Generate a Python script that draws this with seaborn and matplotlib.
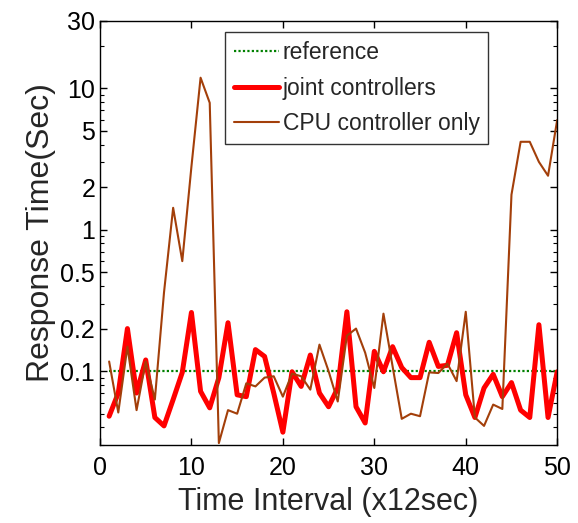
import numpy as np
import pandas as pd
import matplotlib
matplotlib.use("Agg")
import matplotlib.pyplot as plt
import seaborn as sns
from matplotlib.ticker import FixedLocator, FixedFormatter, LogLocator, NullFormatter

# ---- data ----
intervals = list(range(1, 51))
reference = [0.1] * 50
joint = [0.048, 0.07, 0.2, 0.07, 0.12, 0.047, 0.041, 0.063, 0.098, 0.26,
         0.072, 0.055, 0.09, 0.22, 0.068, 0.066, 0.142, 0.127, 0.07, 0.037,
         0.099, 0.078, 0.13, 0.07, 0.056, 0.076, 0.263, 0.056, 0.043, 0.138,
         0.099, 0.149, 0.106, 0.09, 0.09, 0.16, 0.108, 0.11, 0.187, 0.068,
         0.047, 0.076, 0.095, 0.066, 0.083, 0.053, 0.047, 0.213, 0.047, 0.099]
cpu_only = [0.117, 0.051, 0.149, 0.053, 0.117, 0.063, 0.36, 1.43, 0.60, 2.8,
            11.9, 7.9, 0.031, 0.053, 0.05, 0.082, 0.078, 0.09, 0.092, 0.066,
            0.096, 0.092, 0.074, 0.154, 0.1, 0.061, 0.178, 0.2, 0.135, 0.076,
            0.255, 0.108, 0.046, 0.05, 0.048, 0.098, 0.097, 0.113, 0.085, 0.263,
            0.047, 0.041, 0.058, 0.054, 1.77, 4.19, 4.19, 3.02, 2.41, 5.98]
y_ticks = [0.1, 0.2, 0.5, 1, 2, 5, 10, 30]
y_tick_labels = ["0.1", "0.2", "0.5", "1", "2", "5", "10", "30"]
x_ticks = [0, 10, 20, 30, 40, 50]

df = pd.DataFrame({"t": intervals, "reference": reference,
                   "joint": joint, "cpu": cpu_only})

sns.set_style("ticks")
plt.rcParams["font.family"] = ["Liberation Sans", "DejaVu Sans"]

fig = plt.figure(figsize=(5.78, 5.23), dpi=100)
ax = fig.add_axes([0.173, 0.149, 0.791, 0.811])

sns.lineplot(data=df, x="t", y="reference", ax=ax, color="#008000",
             linestyle=(0, (1, 1)), linewidth=1.6, label="reference")
sns.lineplot(data=df, x="t", y="joint", ax=ax, color="#FF0000",
             linewidth=3.6, label="joint controllers")
sns.lineplot(data=df, x="t", y="cpu", ax=ax, color="#A33F0A",
             linewidth=1.5, label="CPU controller only")

ax.set_yscale("log")
ax.set_ylim(0.03, 30)
ax.set_xlim(0, 50)
ax.yaxis.set_major_locator(FixedLocator(y_ticks))
ax.yaxis.set_major_formatter(FixedFormatter(y_tick_labels))
ax.yaxis.set_minor_locator(LogLocator(base=10, subs=np.arange(2, 10)))
ax.yaxis.set_minor_formatter(NullFormatter())
ax.set_xticks(x_ticks)
ax.set_xticklabels([str(v) for v in x_ticks])

ax.tick_params(which="both", direction="in", top=True, right=True,
               labelsize=18, colors="black")
ax.tick_params(axis="x", pad=8)
ax.tick_params(which="major", length=5, width=1)
ax.tick_params(which="minor", length=3, width=0.8)
for s in ax.spines.values():
    s.set_visible(True)
    s.set_color("black")
    s.set_linewidth(1.0)

ax.set_xlabel("Time Interval (x12sec)", fontsize=22, labelpad=5)
ax.set_ylabel("Response Time(Sec)", fontsize=23, labelpad=3)

leg = ax.legend(loc="upper left", bbox_to_anchor=(0.273, 0.973), fontsize=16.5,
                frameon=True, fancybox=False, edgecolor="black",
                handlelength=2.0, handletextpad=0.15, borderpad=0.38,
                labelspacing=0.55, borderaxespad=0)
leg.get_frame().set_linewidth(1.0)

fig.savefig("out.png", dpi=100)
